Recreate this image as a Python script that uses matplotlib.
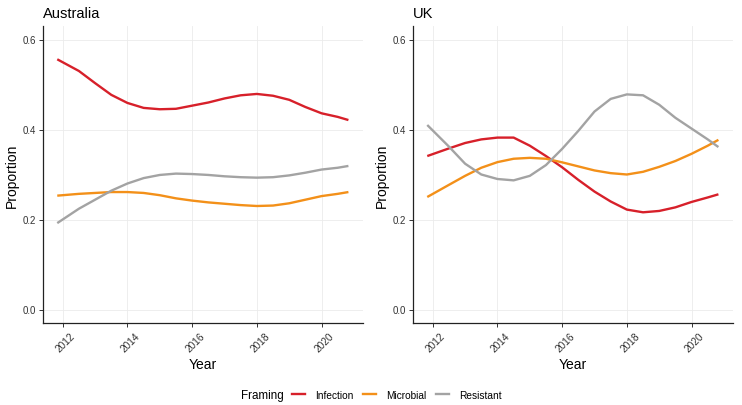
import matplotlib

matplotlib.use("Agg")

import matplotlib.pyplot as plt  # noqa: E402
import matplotlib.transforms as mtransforms  # noqa: E402
from matplotlib.lines import Line2D  # noqa: E402

plt.rcParams["font.family"] = ["Liberation Sans", "DejaVu Sans"]

# smoothed proportions at half-year steps
years = [2011.83, 2012.5, 2013, 2013.5, 2014, 2014.5, 2015, 2015.5, 2016, 2016.5,
         2017, 2017.5, 2018, 2018.5, 2019, 2019.5, 2020, 2020.5, 2020.83]

aus_infection = [0.556, 0.530, 0.503, 0.477, 0.459, 0.448, 0.445, 0.446, 0.453, 0.460,
                 0.469, 0.476, 0.479, 0.475, 0.466, 0.450, 0.436, 0.428, 0.421]
aus_microbial = [0.253, 0.257, 0.259, 0.261, 0.261, 0.259, 0.254, 0.247, 0.242, 0.238,
                 0.235, 0.232, 0.230, 0.231, 0.236, 0.244, 0.252, 0.257, 0.261]
aus_resistant = [0.192, 0.224, 0.244, 0.264, 0.280, 0.292, 0.299, 0.302, 0.301, 0.299,
                 0.296, 0.294, 0.293, 0.294, 0.298, 0.304, 0.311, 0.315, 0.319]

uk_infection = [0.341, 0.358, 0.370, 0.378, 0.382, 0.382, 0.364, 0.341, 0.316, 0.288,
                0.262, 0.240, 0.222, 0.216, 0.219, 0.227, 0.239, 0.249, 0.256]
uk_microbial = [0.250, 0.277, 0.297, 0.315, 0.3275, 0.335, 0.337, 0.335, 0.327, 0.318,
                0.309, 0.303, 0.300, 0.306, 0.317, 0.330, 0.346, 0.364, 0.377]
uk_resistant = [0.410, 0.362, 0.324, 0.300, 0.290, 0.287, 0.297, 0.321, 0.357, 0.397,
                0.440, 0.468, 0.478, 0.476, 0.455, 0.426, 0.402, 0.378, 0.361]

framings = ["Infection", "Microbial", "Resistant"]
colors = ["#D7202A", "#F39019", "#A3A3A3"]

panels = {
    "Australia": [aus_infection, aus_microbial, aus_resistant],
    "UK": [uk_infection, uk_microbial, uk_resistant],
}

fig = plt.figure(figsize=(7.42, 4.06), dpi=100)
shift = mtransforms.ScaledTranslation(3 / 100, 0, fig.dpi_scale_trans)
lefts = [42.7 / 742, 412.7 / 742]
for left, (title, series) in zip(lefts, panels.items()):
    ax = fig.add_axes([left, 82 / 406, 320.6 / 742, 297 / 406])
    for vals, c in zip(series, colors):
        ax.plot(years, vals, color=c, lw=1.7, solid_capstyle="butt",
                solid_joinstyle="round")
    ax.set_xlim(2011.38, 2021.29)
    ax.set_ylim(-0.03, 0.63)
    ax.set_xticks([2012, 2014, 2016, 2018, 2020])
    ax.set_yticks([0.0, 0.2, 0.4, 0.6])
    ax.set_yticklabels(["0.0", "0.2", "0.4", "0.6"])
    ax.grid(True, color="#EBEBEB", lw=0.6)
    ax.set_axisbelow(True)
    for s in ["top", "right"]:
        ax.spines[s].set_visible(False)
    for s in ["left", "bottom"]:
        ax.spines[s].set_color("#222222")
        ax.spines[s].set_linewidth(0.9)
    ax.tick_params(length=3, width=0.7, color="#333333", labelcolor="#333333")
    ax.tick_params(axis="x", labelsize=7.3, pad=10.5)
    ax.tick_params(axis="y", labelsize=7, pad=2)
    for lab in ax.get_xticklabels():
        lab.set_rotation(45)
        lab.set_ha("center")
        lab.set_va("center")
        lab.set_rotation_mode("anchor")
        lab.set_transform(lab.get_transform() + shift)
    ax.set_xlabel("Year", fontsize=10, va="center")
    ax.xaxis.set_label_coords(0.5, (324 - 365) / 297)
    ax.set_ylabel("Proportion", fontsize=10, va="center")
    ax.yaxis.set_label_coords(-(42.7 - 11.5) / 320.6, 0.5)
    ax.set_title(title, loc="left", fontsize=10.5, pad=6.5)

fig.text(284 / 742, 1 - 396 / 406, "Framing", ha="right", va="center", fontsize=8.4)
handles = [Line2D([], [], color=c, lw=1.7) for c in colors]
fig.legend(handles, framings, loc="center left", bbox_to_anchor=(292 / 742, 1 - 396 / 406),
           ncol=3, frameon=False, fontsize=7.3, handlelength=1.3, handletextpad=1.0,
           columnspacing=0.9, borderaxespad=0, borderpad=0)

fig.savefig("out.png", dpi=100)
plt.close(fig)
